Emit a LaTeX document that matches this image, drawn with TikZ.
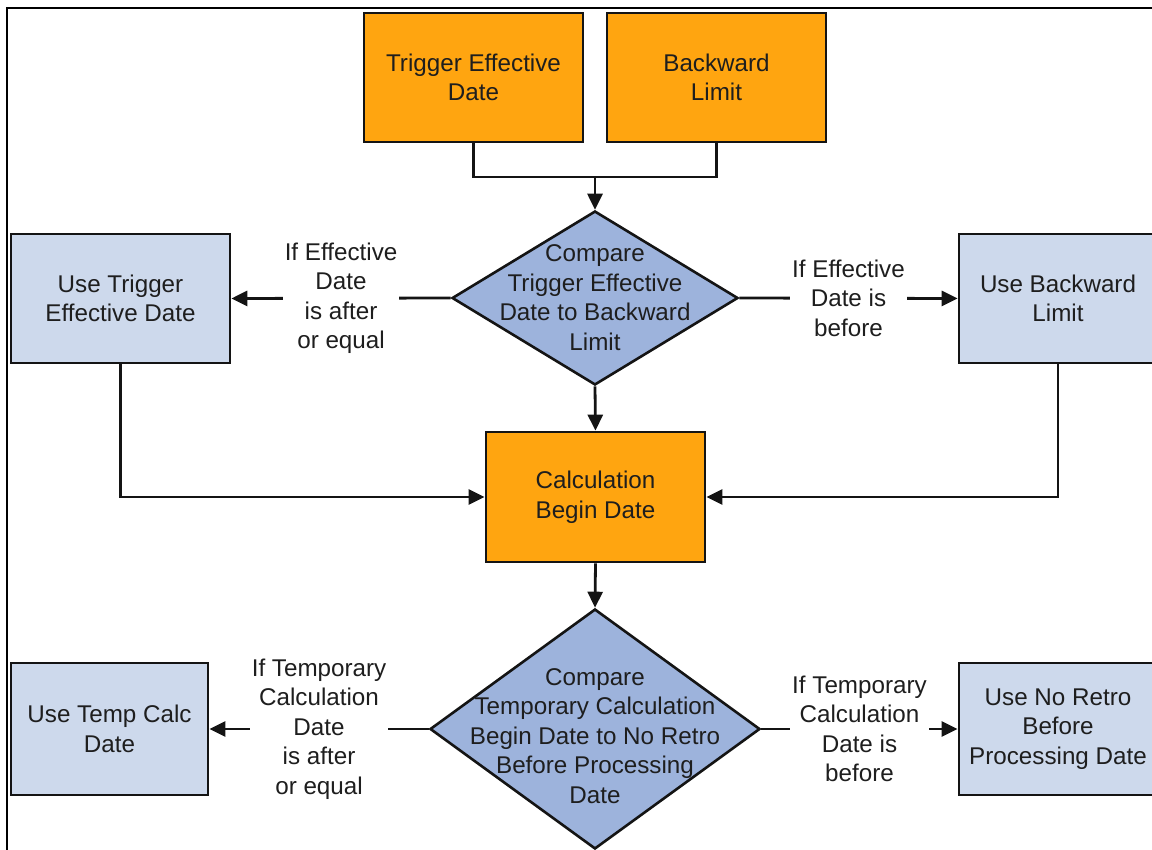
\documentclass[tikz,border=0pt]{standalone}
\usepackage{fontspec}
\setmainfont{Liberation Sans}
\usetikzlibrary{arrows.meta,shapes.geometric}
\definecolor{orangebox}{RGB}{255,165,16}
\definecolor{lightbox}{RGB}{205,217,236}
\definecolor{diablue}{RGB}{157,179,220}
\definecolor{edge}{RGB}{20,20,20}
\definecolor{txt}{RGB}{30,30,30}
\begin{document}
\begin{tikzpicture}[x=1pt,y=-1pt,
  base/.style={font=\fontsize{24.2}{29.5}\selectfont, text=txt, align=center},
  box/.style={base, draw=edge, line width=2.7pt, inner sep=0pt},
  obox/.style={box, fill=orangebox},
  bbox/.style={box, fill=lightbox},
  dia/.style={diamond, draw=edge, line width=2.6pt, fill=diablue, inner sep=0pt},
  dtext/.style={base, inner sep=0pt},
  lab/.style={base, fill=white, inner xsep=2pt, inner ysep=0pt},
  conn/.style={draw=edge, line width=2.8pt},
  arr/.style={conn, -{Triangle[length=16pt,width=15pt]}}]
\useasboundingbox (0,0) rectangle (1152,850);
\clip (0,0) rectangle (1152,850);
\draw[line width=2pt] (7,852) -- (7,8) -- (1160,8);

% nodes
\node[obox, minimum width=219pt, minimum height=129pt] (ted) at (473.5,77.5) {Trigger Effective\\Date};
\node[obox, minimum width=219pt, minimum height=129pt] (bl) at (716.5,77.5) {Backward\\Limit};
\node[dia, minimum width=286pt, minimum height=174pt] (d1) at (595,298) {};
\node[dtext] (d1t) at (595,297.5) {Compare\\Trigger Effective\\Date to Backward\\Limit};
\node[bbox, minimum width=219pt, minimum height=129pt] (utd) at (120.5,298.5) {Use Trigger\\Effective Date};
\node[bbox, minimum width=198pt, minimum height=129pt] (ubl) at (1058,298.5) {Use Backward\\Limit};
\node[obox, minimum width=219pt, minimum height=130pt] (cbd) at (595.5,497) {Calculation\\Begin Date};
\node[dia, minimum width=330pt, minimum height=240pt] (d2) at (595,729) {};
\node[dtext] (d2t) at (595,736) {Compare\\Temporary Calculation\\Begin Date to No Retro\\Before Processing\\Date};
\node[bbox, minimum width=197pt, minimum height=132pt] (utc) at (109.5,729) {Use Temp Calc\\Date};
\node[bbox, minimum width=198pt, minimum height=132pt] (unr) at (1058,729) {Use No Retro\\Before\\Processing Date};

% connectors
\coordinate (j) at (595,177);
\draw[conn] (ted.south) |- (j) -| (bl.south);
\draw[arr] (j) -- (d1.north);
\draw[arr] (d1.west) -- (utd.east) node[lab, midway] (l1) {If Effective\\Date\\is after\\or equal};
\draw[arr] (d1.east) -- (ubl.west) node[lab, midway] (l2) {If Effective\\Date is\\before};
\draw[arr] (d1.south) -- (cbd.north);
\draw[arr] (utd.south) |- (cbd.west);
\draw[arr] (ubl.south) |- (cbd.east);
\draw[arr] (cbd.south) -- (d2.north);
\draw[arr] (d2.west) -- (utc.east) node[lab, midway] (l3) {If Temporary\\Calculation\\Date\\is after\\or equal};
\draw[arr] (d2.east) -- (unr.west) node[lab, midway] (l4) {If Temporary\\Calculation\\Date is\\before};
\end{tikzpicture}
\end{document}
